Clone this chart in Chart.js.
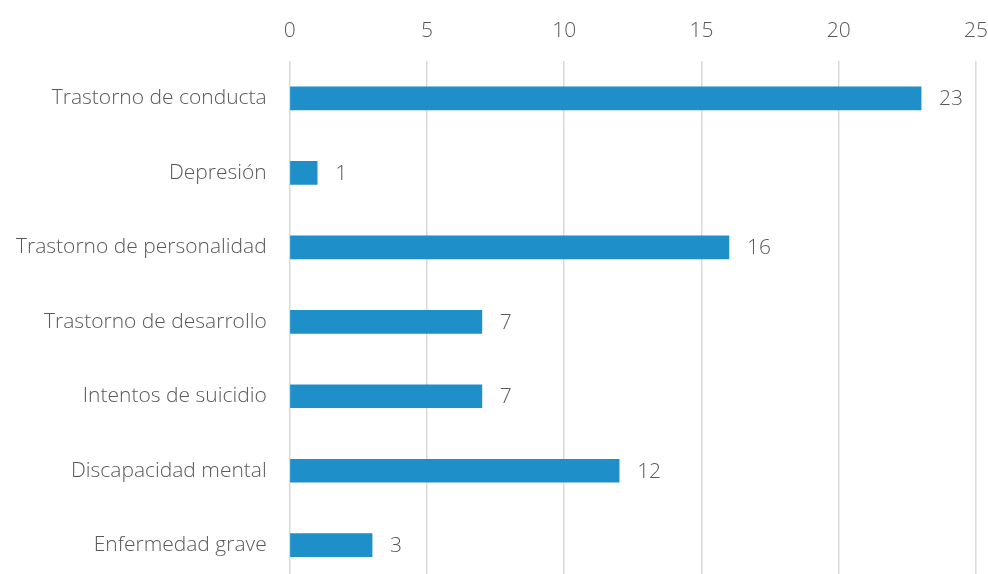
<!DOCTYPE html>
<html>
<head>
<meta charset="utf-8">
<script src="https://cdn.jsdelivr.net/npm/chart.js@4/dist/chart.umd.min.js"></script>
<style>
  html, body { margin: 0; padding: 0; background: #fff; overflow: hidden; }
  canvas { display: block; }
</style>
</head>
<body>
<canvas id="mainChart" width="1006" height="618"></canvas>
<script>
const categories = ['Trastorno de conducta', 'Depresión', 'Trastorno de personalidad',
  'Trastorno de desarrollo', 'Intentos de suicidio', 'Discapacidad mental', 'Enfermedad grave'];
const counts = [23, 1, 16, 7, 7, 12, 3];
const xTicks = [0, 5, 10, 15, 20, 25];

const textColor = '#595959';
const font = { family: '"Open Sans", sans-serif', size: 21, weight: 300 };

// value labels to the right of each bar
const barLabels = {
  id: 'barLabels',
  afterDatasetsDraw(chart) {
    const ctx = chart.ctx;
    const meta = chart.getDatasetMeta(0);
    ctx.save();
    ctx.font = `${font.weight} ${font.size}px ${font.family}`;
    ctx.fillStyle = textColor;
    ctx.textAlign = 'left';
    ctx.textBaseline = 'middle';
    meta.data.forEach((bar, i) => {
      ctx.fillText(String(counts[i]), bar.x + 18, bar.y + 1);
    });
    ctx.restore();
  }
};

const ctx = document.getElementById('mainChart').getContext('2d');
new Chart(ctx, {
  type: 'bar',
  data: {
    labels: categories,
    datasets: [{
      data: counts,
      backgroundColor: '#1e8fc9',
      barThickness: 23
    }]
  },
  options: {
    indexAxis: 'y',
    responsive: false,
    animation: false,
    layout: { padding: { top: 0, right: 0, bottom: 0, left: -7 } },
    plugins: { legend: { display: false }, tooltip: { enabled: false } },
    scales: {
      x: {
        position: 'top',
        min: 0,
        max: 25,
        afterBuildTicks: (axis) => { axis.ticks = xTicks.map(v => ({ value: v })); },
        grid: { color: '#d9d9d9', lineWidth: 1.5, drawTicks: false },
        border: { display: false },
        ticks: { color: textColor, font, padding: 18 }
      },
      y: {
        grid: { display: false, drawTicks: false },
        border: { display: false },
        ticks: { color: textColor, font, padding: 23 }
      }
    }
  },
  plugins: [barLabels]
});
</script>
</body>
</html>
